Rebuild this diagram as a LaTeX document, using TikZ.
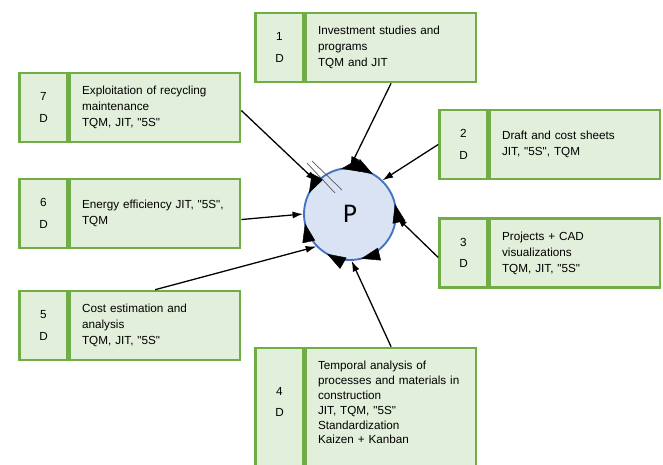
\documentclass[tikz,border=0pt]{standalone}
\usepackage{fontspec}
\setmainfont{Liberation Sans}
\newfontfamily\pfont{Carlito}
\usetikzlibrary{positioning,arrows.meta,decorations.markings}

\definecolor{boxfill}{HTML}{E2EFDA}
\definecolor{boxline}{HTML}{70AD47}
\definecolor{pfill}{HTML}{DAE3F3}
\definecolor{pline}{HTML}{4472C4}

% straight quotes
\newcommand{\qt}[1]{\textquotedbl#1\textquotedbl}

\tikzset{
  numcell/.style={draw=boxline, fill=boxfill, line width=2.2pt, minimum width=1.44cm,
    minimum height=2.07cm, inner sep=0pt, align=center, font=\fontsize{10}{13.6}\selectfont},
  txtcell/.style={draw=boxline, fill=boxfill, line width=2.2pt, minimum width=5.1cm,
    minimum height=2.07cm, inner xsep=0.36cm, inner ysep=0pt, text width=4.38cm,
    align=left, font=\fontsize{10}{13.6}\selectfont},
  pcircle/.style={circle, draw=pline, fill=pfill, line width=1.6pt, minimum size=2.76cm,
    inner sep=0pt, font=\pfont\fontsize{23}{26}\selectfont},
  link/.style={-{Latex[length=9pt,width=6pt]}, line width=1.1pt},
  cw/.style={decoration={markings, mark=at position #1 with {\arrowreversed{Triangle[length=16pt,width=11pt]}}}, decorate},
  ccw/.style={decoration={markings, mark=at position #1 with {\arrow{Triangle[length=16pt,width=11pt]}}}, decorate},
}

\begin{document}
\begin{tikzpicture}[x=0.03cm, y=-0.03cm]
    \useasboundingbox (0,0) rectangle (663,464);
    \clip (0,0) rectangle (663,464);

    % boxes: number cell + text cell
    \node[numcell] (n1) at (279.5,47.5) {1\\[5pt]D};
    \node[txtcell, right=0pt of n1] (t1) {Investment studies and\\programs\\TQM and JIT};

    \node[numcell] (n2) at (463.5,144.5) {2\\[5pt]D};
    \node[txtcell, right=0pt of n2] (t2) {Draft and cost sheets\\JIT, \qt{5S}, TQM};

    \node[numcell] (n3) at (463.5,253) {3\\[5pt]D};
    \node[txtcell, right=0pt of n3] (t3) {Projects + CAD\\visualizations\\TQM, JIT, \qt{5S}};

    \node[numcell, minimum height=3.72cm] (n4) at (279.5,410) {4\\[4pt]D\\\mbox{}};
    \node[txtcell, minimum height=3.72cm, font=\fontsize{10}{12.6}\selectfont, right=0pt of n4] (t4)
        {Temporal analysis of\\processes and materials in\\construction\\JIT, TQM, \qt{5S}\\Standardization\\Kaizen + Kanban\\\mbox{}};

    \node[numcell] (n5) at (43.5,325.5) {5\\[5pt]D};
    \node[txtcell, right=0pt of n5] (t5) {Cost estimation and\\analysis\\TQM, JIT, \qt{5S}};

    \node[numcell] (n6) at (43.5,213.5) {6\\[5pt]D};
    \node[txtcell, right=0pt of n6] (t6) {Energy efficiency JIT, \qt{5S},\\TQM};

    \node[numcell] (n7) at (43.5,107.5) {7\\[5pt]D};
    \node[txtcell, right=0pt of n7] (t7) {Exploitation of recycling\\maintenance\\TQM, JIT, \qt{5S}};

    % centre
    \node[pcircle] (p) at (350,214) {P};

    % arrows into the circle
    \draw[link] (t1.south) -- (p.north);
    \draw[link] (n2.west) -- (p.46);
    \draw[link] (n3.190) -- (p.356);
    \draw[link] (t4.north) -- (p.272);
    \draw[link] (t5.north) -- (p.224);
    \draw[link] (t6.356) -- (p.180);
    \draw[link] (t7.358) -- (p.136);

    % marks on the circle
    \foreach \pos/\dir in {0.035/ccw, 0.167/cw, 0.281/ccw, 0.425/ccw, 0.533/cw, 0.667/cw, 0.789/cw}
        \path[\dir=\pos] (p.center) circle[radius=1.38cm];

    % double stroke
    \draw[black!65, line width=0.6pt] (307,163) -- (335,193);
    \draw[black!65, line width=0.6pt] (312,161) -- (342,190);

\end{tikzpicture}
\end{document}
